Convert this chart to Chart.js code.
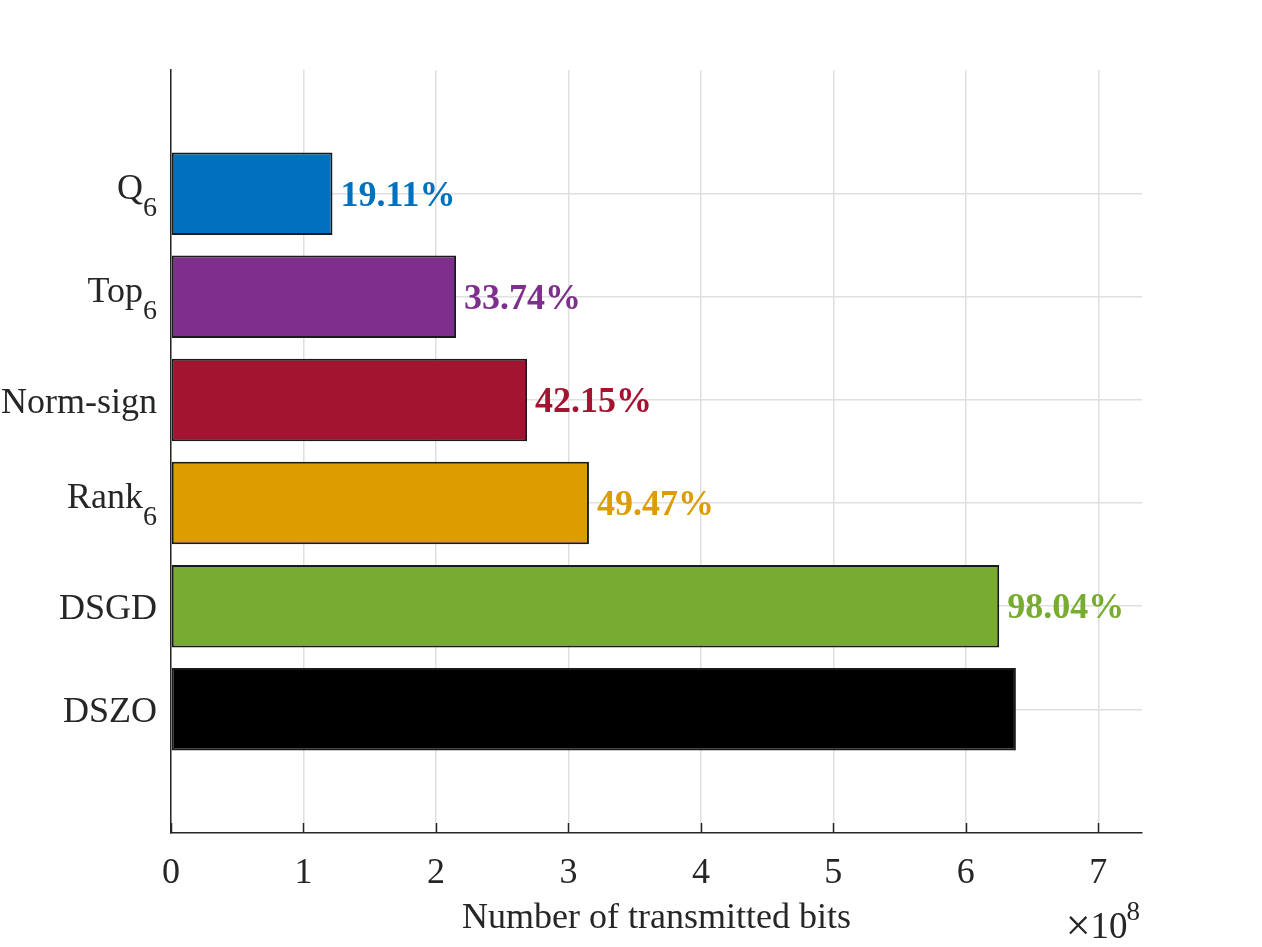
<!DOCTYPE html>
<html>
<head>
<meta charset="utf-8">
<script src="https://cdn.jsdelivr.net/npm/chart.js@4"></script>
<style>
  html, body { margin: 0; padding: 0; background: #fff; }
  #wrap { width: 1262px; height: 947px; }
</style>
</head>
<body>
<div id="wrap"><canvas id="bits" width="1262" height="947"></canvas></div>
<script>
// Données (valeurs en unités de 1e8 bits)
const methodNames = ['Q', 'Top', 'Norm-sign', 'Rank', 'DSGD', 'DSZO'];
const methodSubs = ['6', '6', '', '6', '', ''];
const methodPos = [1, 2, 3, 4, 5, 6];
const bitsE8 = [1.219, 2.152, 2.688, 3.155, 6.252, 6.378];
const ratioLabels = ['19.11%', '33.74%', '42.15%', '49.47%', '98.04%', ''];
const barColors = ['#0072BD', '#7E2F8E', '#A2142F', '#DD9D00', '#77AC30', '#000000'];
const xTicks = [0, 1, 2, 3, 4, 5, 6, 7];

const FONT = '"Liberation Serif", "Times New Roman", serif';
const INK = '#262626';
const GRID = '#e0e0e0';

// Étiquettes, marques de graduation et annotations
const annotations = {
    id: 'annotations',
    afterDatasetsDraw(chart) {
        const {ctx, chartArea} = chart;
        const xs = chart.scales.x;
        const ys = chart.scales.y;
        ctx.save();

        // graduations vers l'intérieur sur l'axe x
        ctx.strokeStyle = INK;
        ctx.lineWidth = 1.5;
        xTicks.forEach(v => {
            const px = Math.round(xs.getPixelForValue(v)) + 0.5;
            ctx.beginPath();
            ctx.moveTo(px, chartArea.bottom);
            ctx.lineTo(px, chartArea.bottom - 10);
            ctx.stroke();
        });

        // noms des méthodes, avec indice
        ctx.fillStyle = INK;
        ctx.textAlign = 'right';
        ctx.textBaseline = 'alphabetic';
        methodNames.forEach((name, i) => {
            const py = ys.getPixelForValue(methodPos[i]);
            const right = 157;
            if (methodSubs[i]) {
                ctx.font = '28px ' + FONT;
                ctx.fillText(methodSubs[i], right, py + 22);
                const w = ctx.measureText(methodSubs[i]).width;
                ctx.font = '36px ' + FONT;
                ctx.fillText(name, right - w, py + 5);
            } else {
                ctx.font = '36px ' + FONT;
                ctx.fillText(name, right, py + 13);
            }
        });

        // pourcentages au bout des barres
        const meta = chart.getDatasetMeta(0);
        ctx.textAlign = 'left';
        ctx.font = 'bold 36px ' + FONT;
        meta.data.forEach((bar, i) => {
            if (!ratioLabels[i]) return;
            ctx.fillStyle = barColors[i];
            ctx.fillText(ratioLabels[i], bar.x + 8, bar.y + 12);
        });

        // facteur d'échelle x10^8
        ctx.fillStyle = INK;
        ctx.textAlign = 'right';
        ctx.font = '27px ' + FONT;
        ctx.fillText('8', chartArea.right - 2, 920);
        const w8 = ctx.measureText('8').width;
        ctx.font = '37px ' + FONT;
        ctx.fillText('10', chartArea.right - 1 - w8, 938);
        const w10 = ctx.measureText('10').width;
        ctx.font = '44px ' + FONT;
        ctx.fillText('\u00d7', chartArea.right - 1 - w8 - w10, 940);

        ctx.restore();
    }
};

document.addEventListener('DOMContentLoaded', function() {
    const ctx = document.getElementById('bits');
    new Chart(ctx, {
        type: 'bar',
        data: {
            datasets: [{
                data: methodPos.map((p, i) => ({x: bitsE8[i], y: p})),
                backgroundColor: barColors,
                borderColor: '#1a1a1a',
                borderWidth: 2,
                borderSkipped: false,
                barPercentage: 0.8,
                categoryPercentage: 1
            }]
        },
        options: {
            indexAxis: 'y',
            responsive: false,
            animation: false,
            devicePixelRatio: 1,
            layout: { padding: { left: 0, top: 70, right: 120, bottom: 0 } },
            plugins: {
                legend: { display: false },
                tooltip: { enabled: false }
            },
            scales: {
                x: {
                    type: 'linear',
                    min: 0,
                    max: 7.33,
                    afterBuildTicks: s => { s.ticks = xTicks.map(v => ({value: v})); },
                    afterFit: s => { s.height = 114; },
                    grid: { color: GRID, lineWidth: 1.5, drawTicks: false },
                    border: { color: INK, width: 1.5 },
                    ticks: {
                        padding: 19,
                        color: INK,
                        font: { family: FONT, size: 36 },
                        maxRotation: 0
                    },
                    title: {
                        display: true,
                        text: 'Number of transmitted bits',
                        color: INK,
                        font: { family: FONT, size: 36 },
                        padding: { top: 0, bottom: 7 }
                    }
                },
                y: {
                    type: 'linear',
                    reverse: true,
                    min: -0.2,
                    max: 7.2,
                    offset: false,
                    afterBuildTicks: s => { s.ticks = methodPos.map(v => ({value: v})); },
                    afterFit: s => { s.width = 171; },
                    grid: { color: GRID, lineWidth: 1.5, drawTicks: false, offset: false },
                    border: { color: INK, width: 1.5 },
                    ticks: { display: false }
                }
            }
        },
        plugins: [annotations]
    });
});
</script>
</body>
</html>
